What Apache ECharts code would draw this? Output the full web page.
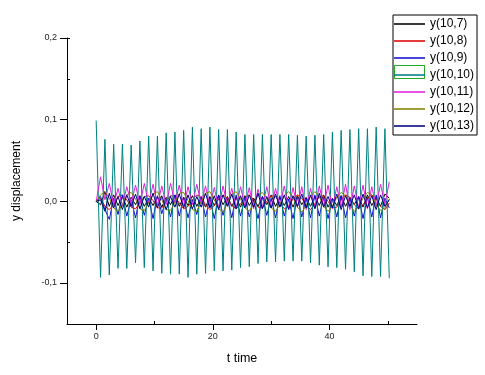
<!DOCTYPE html>
<html>
<head>
<meta charset="utf-8">
<script src="https://cdn.jsdelivr.net/npm/echarts@6/dist/echarts.min.js"></script>
<style>html,body{margin:0;padding:0;background:#fff;}#c{width:485px;height:375px;}</style>
</head>
<body>
<div id="c"></div>
<script>
// time samples (peaks / troughs of the oscillations)
const tValues = [0,0.75,1.5,2.25,3,3.75,4.5,5.25,6,6.75,7.5,8.25,9,9.75,10.5,11.25,12,12.75,13.5,14.25,15,15.75,16.5,17.25,18,18.75,19.5,20.25,21,21.75,22.5,23.25,24,24.75,25.5,26.25,27,27.75,28.5,29.25,30,30.75,31.5,32.25,33,33.75,34.5,35.25,36,36.75,37.5,38.25,39,39.75,40.5,41.25,42,42.75,43.5,44.25,45,45.75,46.5,47.25,48,48.75,49.5,50.25];

const seriesNames = ['y(10,7)','y(10,8)','y(10,9)','y(10,10)','y(10,11)','y(10,12)','y(10,13)'];

const y10_7 = [0,-0.004,0.012,-0.006,0.008,-0.005,0.006,-0.007,0.005,-0.004,
0.007,-0.006,0.004,-0.005,0.006,-0.007,0.005,-0.004,0.008,-0.006,
0.005,-0.005,0.007,-0.006,0.004,-0.007,0.006,-0.005,0.008,-0.004,
0.006,-0.006,0.005,-0.007,0.007,-0.005,0.004,-0.006,0.006,-0.004,
0.008,-0.006,0.005,-0.005,0.006,-0.007,0.007,-0.004,0.005,-0.006,
0.006,-0.005,0.008,-0.007,0.004,-0.005,0.007,-0.006,0.005,-0.004,
0.006,-0.007,0.008,-0.005,0.005,-0.006,0.009,0.004];

const y10_8 = [0,0.004,-0.006,-0.010,-0.004,0.006,0.008,0.002,-0.007,-0.009,
-0.002,0.006,0.007,0.001,-0.008,-0.008,0.000,0.007,0.006,-0.002,
-0.009,-0.006,0.002,0.008,0.005,-0.004,-0.010,-0.005,0.003,0.008,
0.004,-0.005,-0.009,-0.003,0.005,0.008,0.002,-0.007,-0.008,0.000,
0.007,0.006,-0.002,-0.009,-0.006,0.003,0.008,0.004,-0.005,-0.010,
-0.003,0.006,0.007,0.000,-0.008,-0.007,0.002,0.008,0.005,-0.004,
-0.009,-0.004,0.004,0.008,0.003,-0.006,-0.010,-0.002];

const y10_9 = [0,0.006,-0.010,-0.022,0.004,-0.016,0.008,-0.018,0.002,-0.020,
0.006,-0.017,0.004,-0.021,0.007,-0.015,0.003,-0.019,0.008,-0.018,
0.005,-0.020,0.002,-0.016,0.006,-0.019,0.004,-0.021,0.007,-0.017,
0.003,-0.020,0.008,-0.018,0.005,-0.019,0.002,-0.021,0.006,-0.017,
0.004,-0.020,0.007,-0.018,0.003,-0.021,0.006,-0.019,0.004,-0.020,
0.008,-0.018,0.005,-0.021,0.003,-0.019,0.007,-0.020,0.004,-0.018,
0.006,-0.021,0.005,-0.019,0.008,-0.020,0.004,-0.008];

const y10_10 = [0.099,-0.093,0.076,-0.090,0.070,-0.082,0.070,-0.082,0.069,-0.075,
0.074,-0.081,0.080,-0.085,0.080,-0.088,0.084,-0.089,0.085,-0.089,
0.087,-0.093,0.091,-0.089,0.089,-0.088,0.091,-0.085,0.088,-0.085,
0.088,-0.084,0.085,-0.081,0.082,-0.080,0.082,-0.076,0.082,-0.074,
0.082,-0.074,0.082,-0.073,0.082,-0.073,0.081,-0.073,0.080,-0.075,
0.081,-0.078,0.082,-0.080,0.085,-0.081,0.087,-0.083,0.088,-0.086,
0.089,-0.091,0.089,-0.092,0.091,-0.092,0.089,-0.094];

const y10_11 = [0,0.030,0.002,0.022,-0.004,0.016,-0.006,0.018,-0.002,0.020,
-0.004,0.022,-0.003,0.021,-0.005,0.019,-0.004,0.022,-0.002,0.020,
-0.006,0.018,-0.004,0.021,-0.003,0.019,-0.006,0.017,-0.008,0.019,
-0.005,0.016,-0.008,0.018,-0.006,0.017,-0.009,0.015,-0.007,0.018,
-0.008,0.016,-0.006,0.019,-0.009,0.017,-0.007,0.018,-0.010,0.016,
-0.008,0.019,-0.006,0.020,-0.009,0.018,-0.007,0.021,-0.010,0.019,
-0.008,0.020,-0.009,0.018,-0.006,0.021,-0.004,0.024];

const y10_12 = [0,0.008,0.012,0.004,-0.008,-0.012,-0.004,0.008,0.011,0.003,
-0.009,-0.011,-0.002,0.009,0.012,0.002,-0.010,-0.011,-0.001,0.010,
0.011,0.001,-0.010,-0.012,0.000,0.010,0.012,0.002,-0.009,-0.013,
-0.002,0.009,0.012,0.003,-0.008,-0.012,-0.003,0.008,0.011,0.004,
-0.008,-0.012,-0.004,0.007,0.012,0.005,-0.007,-0.013,-0.005,0.006,
0.012,0.006,-0.006,-0.012,-0.006,0.005,0.011,0.007,-0.005,-0.012,
-0.007,0.004,0.011,0.008,-0.004,-0.011,-0.008,0.003];

const y10_13 = [0,0.002,-0.012,0.010,-0.008,0.006,-0.010,0.008,-0.006,0.009,
-0.009,0.006,-0.007,0.010,-0.008,0.007,-0.010,0.006,-0.007,0.009,
-0.008,0.008,-0.009,0.006,-0.007,0.010,-0.008,0.007,-0.010,0.008,
-0.006,0.009,-0.009,0.007,-0.008,0.008,-0.007,0.010,-0.009,0.006,
-0.008,0.009,-0.007,0.008,-0.010,0.007,-0.006,0.009,-0.008,0.008,
-0.009,0.010,-0.007,0.006,-0.008,0.009,-0.010,0.007,-0.006,0.008,
-0.009,0.009,-0.008,0.007,-0.010,0.008,-0.006,0.002];

const yMajorTicks = [-0.1, 0, 0.1, 0.2];
const xMajorTicks = [0, 20, 40];

const allValues = [y10_7, y10_8, y10_9, y10_10, y10_11, y10_12, y10_13];
const colors = ['#000000','#e00000','#1010d0','#008080','#e020e0','#808000','#000080'];

const FONT = 'Liberation Sans, Arial, sans-serif';
const chart = echarts.init(document.getElementById('c'), null, {renderer:'canvas'});

const fmt = v => v.toFixed(1).replace('.', ',');

const option = {
  animation: false,
  backgroundColor: '#fff',
  grid: [
    {left: 67, right: 68, top: 38, bottom: 51},          // main plot
    {left: 67, right: 68, top: 38, height: 245},         // y major ticks (-0.1..0.2)
    {left: 96.2, width: 233.3, top: 38, bottom: 51},     // x major ticks (0..40)
    {left: 154.5, width: 233.3, top: 38, bottom: 51}     // x minor ticks (10..50)
  ],
  xAxis: [
    {gridIndex: 0, type: 'value', min: -5, max: 55, splitLine: {show: false},
     axisLine: {show: true, onZero: false, lineStyle: {color: '#000', width: 1}},
     axisTick: {show: false}, axisLabel: {show: false},
     name: 't time', nameLocation: 'middle', nameGap: 28,
     nameTextStyle: {fontSize: 12.5, color: '#000', fontFamily: FONT}},
    {gridIndex: 1, type: 'value', min: 0, max: 1, show: false},
    {gridIndex: 2, type: 'value', min: xMajorTicks[0], max: xMajorTicks[xMajorTicks.length-1], interval: 20,
     splitLine: {show: false}, axisLine: {show: false},
     axisTick: {show: true, inside: false, length: 6, lineStyle: {color: '#000'}},
     axisLabel: {show: true, margin: 8, fontSize: 9, color: '#222', fontFamily: FONT}},
    {gridIndex: 3, type: 'value', min: 10, max: 50, interval: 20,
     splitLine: {show: false}, axisLine: {show: false},
     axisTick: {show: true, inside: true, length: 3, lineStyle: {color: '#000'}},
     axisLabel: {show: false}}
  ],
  yAxis: [
    {gridIndex: 0, type: 'value', min: -0.15, max: 0.2, interval: 0.1, splitLine: {show: false},
     axisLine: {show: true, onZero: false, lineStyle: {color: '#000', width: 1}},
     axisTick: {show: true, inside: true, length: 3, lineStyle: {color: '#000'}},
     axisLabel: {show: false},
     name: 'y displacement', nameLocation: 'middle', nameGap: 44,
     nameTextStyle: {fontSize: 12, color: '#000', fontFamily: FONT}},
    {gridIndex: 1, type: 'value', min: yMajorTicks[0], max: yMajorTicks[yMajorTicks.length-1], interval: 0.1,
     splitLine: {show: false}, axisLine: {show: false},
     axisTick: {show: true, inside: false, length: 7, lineStyle: {color: '#000'}},
     axisLabel: {show: true, margin: 10, fontSize: 9, color: '#222', fontFamily: FONT, formatter: fmt}},
    {gridIndex: 2, type: 'value', show: false, min: 0, max: 1},
    {gridIndex: 3, type: 'value', show: false, min: 0, max: 1}
  ],
  legend: [
    {left: 393, top: 15, orient: 'vertical', itemWidth: 31, itemHeight: 11, itemGap: 5, z: 5,
     padding: [3, 3, 3, 1], borderColor: '#000', borderWidth: 1,
     selectedMode: false,
     icon: 'path://M0,0H32V1.6H0Z',
     itemStyle: {borderWidth: 0},
     textStyle: {fontSize: 12, color: '#000', fontFamily: FONT},
     data: seriesNames},
    {left: 394, top: 65, orient: 'vertical', itemWidth: 30, itemHeight: 13, padding: 0, z: 3,
     selectedMode: false, icon: 'rect',
     itemStyle: {color: 'transparent', borderColor: '#22aa22', borderWidth: 1},
     textStyle: {color: 'transparent', fontSize: 12},
     data: [seriesNames[3]]}
  ],
  series: seriesNames.map((name, i) => ({
    name: name, type: 'line', xAxisIndex: 0, yAxisIndex: 0,
    symbol: 'none', showSymbol: false,
    lineStyle: {color: colors[i], width: 1},
    itemStyle: {color: colors[i]},
    data: tValues.map((t, k) => [t, allValues[i][k]])
  }))
};
chart.setOption(option);
</script>
</body>
</html>
